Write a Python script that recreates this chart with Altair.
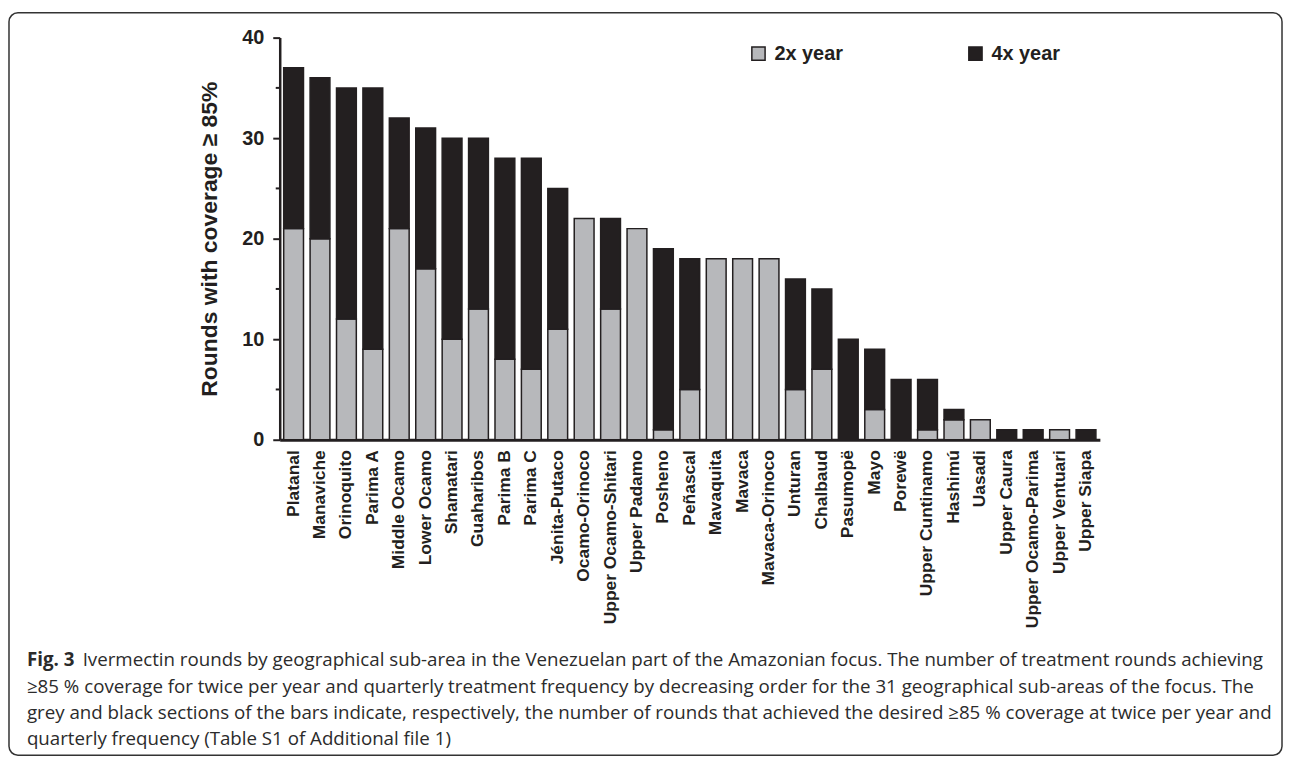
import altair as alt
import pandas as pd

areas = ["Platanal", "Manaviche", "Orinoquito", "Parima A", "Middle Ocamo", "Lower Ocamo",
         "Shamatari", "Guaharibos", "Parima B", "Parima C", "Jénita-Putaco", "Ocamo-Orinoco",
         "Upper Ocamo-Shitari", "Upper Padamo", "Posheno", "Peñascal", "Mavaquita", "Mavaca",
         "Mavaca-Orinoco", "Unturan", "Chalbaud", "Pasumopë", "Mayo", "Porewë",
         "Upper Cuntinamo", "Hashimú", "Uasadi", "Upper Caura", "Upper Ocamo-Parima",
         "Upper Ventuari", "Upper Siapa"]
twice_year = [21, 20, 12, 9, 21, 17, 10, 13, 8, 7, 11, 22, 13, 21, 1, 5, 18, 18, 18, 5, 7,
              0, 3, 0, 1, 2, 2, 0, 0, 1, 0]
four_year = [16, 16, 23, 26, 11, 14, 20, 17, 20, 21, 14, 0, 9, 0, 18, 13, 0, 0, 0, 11, 8,
             10, 6, 6, 5, 1, 0, 1, 1, 0, 1]
series_names = ["2x year", "4x year"]
major_ticks = [0, 10, 20, 30, 40]
minor_ticks = [5, 15, 25, 35]
y_title = "Rounds with coverage ≥ 85%"
caption_bold = "Fig. 3"
caption_line1 = ("Ivermectin rounds by geographical sub-area in the Venezuelan part of the "
                 "Amazonian focus. The number of treatment rounds achieving")
caption_rest = [
    "≥85 % coverage for twice per year and quarterly treatment frequency by decreasing order "
    "for the 31 geographical sub-areas of the focus. The",
    "grey and black sections of the bars indicate, respectively, the number of rounds that "
    "achieved the desired ≥85 % coverage at twice per year and",
    "quarterly frequency (Table S1 of Additional file 1)",
]

rows = []
for a, t, f in zip(areas, twice_year, four_year):
    if t > 0:
        rows.append({"area": a, "series": series_names[0], "ord": 0, "value": t})
    if f > 0:
        rows.append({"area": a, "series": series_names[1], "ord": 1, "value": f})
df = pd.DataFrame(rows)

INK = "#231f20"
FONT = "Liberation Sans"
yscale = alt.Scale(domain=[0, 40], nice=False)

bars = alt.Chart(df).mark_bar(stroke=INK, strokeWidth=1.5).encode(
    x=alt.X("area:N", sort=areas, title=None,
            scale=alt.Scale(paddingInner=0.25, paddingOuter=0.15),
            axis=alt.Axis(ticks=False, labelAngle=-90, labelAlign="right",
                          labelBaseline="middle", labelPadding=10, labelFont=FONT,
                          labelFontWeight="bold", labelFontSize=17.5, labelColor=INK,
                          domainColor=INK, domainWidth=3, grid=False)),
    y=alt.Y("value:Q", stack="zero", title=y_title, scale=yscale,
            axis=alt.Axis(values=major_ticks, tickSize=7,
                          tickWidth=2, tickColor=INK, domainColor=INK, domainWidth=2.5,
                          labelFont=FONT, labelFontWeight="bold", labelFontSize=20,
                          labelColor=INK, labelPadding=9, grid=False,
                          titleFont=FONT, titleFontWeight="bold", titleFontSize=23,
                          titleColor=INK, titlePadding=20)),
    color=alt.Color("series:N",
                    scale=alt.Scale(domain=series_names, range=["#b7b8bb", INK]),
                    legend=alt.Legend(title=None, orient="none", legendX=471, legendY=6,
                                      direction="horizontal", symbolType="square",
                                      symbolSize=177, symbolStrokeColor=INK,
                                      symbolStrokeWidth=1.5, symbolOpacity=1,
                                      labelFont=FONT, labelFontWeight="bold",
                                      labelFontSize=20, labelColor=INK, labelOffset=6,
                                      columnPadding=123)),
    order=alt.Order("ord:Q", sort="ascending"),
)

minor = alt.Chart(pd.DataFrame({"t": minor_ticks})).mark_rule(
    color=INK, strokeWidth=2).encode(
    y=alt.Y("t:Q", scale=yscale), x=alt.value(-4), x2=alt.value(0))

one = pd.DataFrame({"k": [0]})

frame = alt.Chart(one).mark_rect(fillOpacity=0, stroke="#333333", strokeWidth=1.5,
                                 cornerRadius=9).encode(
    x=alt.value(-272), x2=alt.value(1007), y=alt.value(-25), y2=alt.value(721))

cap_font = "Open Sans"
cap_color = "#2b2b2b"
cap_size = 18.8
cap_bold = alt.Chart(one).mark_text(text=caption_bold, font=cap_font, fontWeight="bold",
                                    fontSize=cap_size, color=cap_color, align="left",
                                    baseline="middle").encode(
    x=alt.value(-254), y=alt.value(625))
cap_l1 = alt.Chart(one).mark_text(text=caption_line1, font=cap_font, fontSize=cap_size,
                                  color=cap_color, align="left", baseline="middle").encode(
    x=alt.value(-198), y=alt.value(625))
cap_rest = alt.Chart(one).mark_text(text=caption_rest, font=cap_font, fontSize=cap_size,
                                    color=cap_color, align="left", baseline="middle",
                                    lineHeight=26.3).encode(
    x=alt.value(-254), y=alt.value(652))

chart = alt.layer(frame, bars, minor, cap_bold, cap_l1, cap_rest).properties(
    width=824, height=404,
    autosize=alt.AutoSizeParams(type="none"),
    padding={"left": 273, "top": 28, "right": 185, "bottom": 319},
).configure_view(stroke=None)

chart.save("out.html", embed_options={"renderer": "svg", "actions": False})
